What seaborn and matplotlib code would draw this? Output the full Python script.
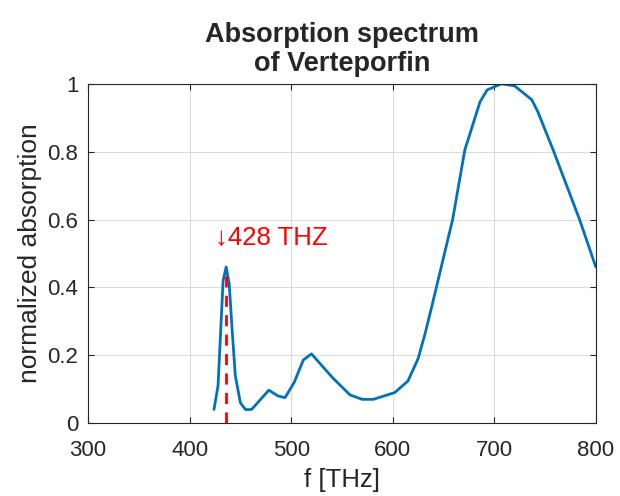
import matplotlib
matplotlib.use("Agg")
import matplotlib.pyplot as plt
import seaborn as sns
import pandas as pd

freq = [424, 428, 433, 436, 439, 442, 445, 450, 455, 461, 478, 487, 494, 503,
        512, 520, 541, 558, 570, 581, 602, 615, 625, 632, 639, 659, 671, 686,
        693, 707, 720, 737, 743, 758, 784, 800]
absorption = [0.04, 0.11, 0.42, 0.46, 0.41, 0.27, 0.14, 0.06, 0.04, 0.04, 0.097,
              0.08, 0.075, 0.12, 0.186, 0.204, 0.133, 0.083, 0.07, 0.07, 0.09,
              0.124, 0.19, 0.265, 0.35, 0.60, 0.805, 0.947, 0.982, 1.0, 0.994,
              0.953, 0.917, 0.805, 0.60, 0.46]
marker_freq = 436
marker_peak = 0.46
marker_label = "\u2193428 THZ"
x_ticks = [300, 400, 500, 600, 700, 800]
y_ticks = [0, 0.2, 0.4, 0.6, 0.8, 1]
y_tick_labels = ["0", "0.2", "0.4", "0.6", "0.8", "1"]

sns.set_theme(style="white")
plt.rcParams['font.family'] = ['Liberation Sans', 'DejaVu Sans']

df = pd.DataFrame({"f": freq, "a": absorption})

fig = plt.figure(figsize=(6.2, 4.96), dpi=100)
ax = fig.add_axes([0.142, 0.147, 0.819, 0.684])

sns.lineplot(data=df, x="f", y="a", ax=ax, color="#0072BD", linewidth=2, sort=False)
ax.plot([marker_freq, marker_freq], [0, marker_peak], color="red",
        linestyle=(0, (4, 3)), linewidth=2)
ax.text(marker_freq - 11, 0.545, marker_label, color="red", fontsize=18.5,
        va="center", ha="left")

ax.set_xlim(300, 800)
ax.set_ylim(0, 1)
ax.set_xticks(x_ticks)
ax.set_yticks(y_ticks)
ax.set_yticklabels(y_tick_labels)
ax.grid(True, color="#dcdcdc", linewidth=0.8)
ax.tick_params(direction="in", length=4, width=0.8, colors="#262626", labelsize=16,
               top=True, right=True, bottom=True, left=True)
ax.tick_params(axis="x", pad=12)
ax.tick_params(axis="y", pad=7)
for s in ax.spines.values():
    s.set_color("#262626")
    s.set_linewidth(0.8)
ax.set_xlabel("f [THz]", fontsize=18.5, color="#262626", labelpad=5)
ax.set_ylabel("normalized absorption", fontsize=19, color="#262626", labelpad=4)
ax.set_title("Absorption spectrum\nof Verteporfin", fontsize=19.5, fontweight="bold",
             pad=9, linespacing=1.15)

fig.savefig("out.png", dpi=100)
